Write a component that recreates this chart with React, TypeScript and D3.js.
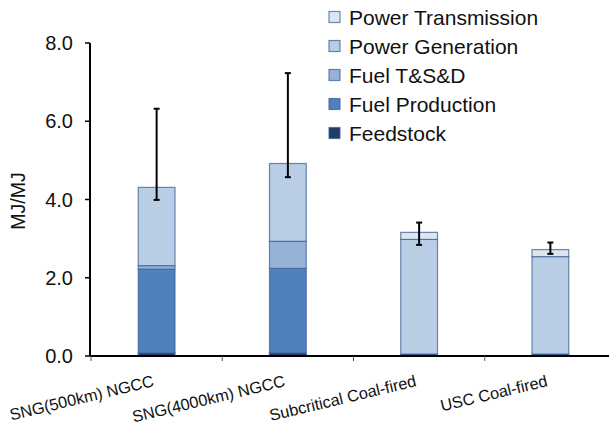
import React from "react";
import * as d3 from "d3";

// Primary energy input per unit of delivered electricity, by pathway
const categories = ["SNG(500km) NGCC", "SNG(4000km) NGCC", "Subcritical Coal-fired", "USC Coal-fired"];
const stages = ["Feedstock", "Fuel Production", "Fuel T&S&D", "Power Generation", "Power Transmission"];
const feedstock = [0.08, 0.08, 0.05, 0.05];
const fuelProduction = [2.14, 2.16, 0, 0];
const fuelTSD = [0.09, 0.69, 0, 0];
const powerGeneration = [2.0, 1.99, 2.93, 2.49];
const powerTransmission = [0, 0, 0.18, 0.18];
const errorLow = [3.99, 4.57, 2.84, 2.61];
const errorHigh = [6.32, 7.23, 3.41, 2.9];
const yTicks = [0, 2, 4, 6, 8];

const stageColors: Record<string, string> = {
  "Feedstock": "#1f3b66",
  "Fuel Production": "#4f81bd",
  "Fuel T&S&D": "#95b3d7",
  "Power Generation": "#b9cde5",
  "Power Transmission": "#dce6f2",
};

const W = 609;
const H = 423;
const FONT = "'Liberation Sans', Arial, sans-serif";

export default function App() {
  const rows = categories.map((c, i) => ({
    cat: c,
    "Feedstock": feedstock[i],
    "Fuel Production": fuelProduction[i],
    "Fuel T&S&D": fuelTSD[i],
    "Power Generation": powerGeneration[i],
    "Power Transmission": powerTransmission[i],
  }));
  const series = d3.stack<any>().keys(stages)(rows);

  const x = d3.scaleBand<string>().domain(categories).range([91, 616]).padding(0);
  const y = d3.scaleLinear().domain([0, 8]).range([356, 43]);
  const bw = x.bandwidth() * 0.28;
  const cx = (c: string) => (x(c) as number) + x.bandwidth() / 2;

  const legendItems = [...stages].reverse();

  return (
    <svg width={W} height={H} style={{ position: "absolute", left: 0, top: 0, background: "#fff" }} fontFamily={FONT}>
      {/* stacked bars */}
      {series.map((s) => (
        <g key={s.key}>
          {s.map((d, i) => {
            const h = y(d[0]) - y(d[1]);
            if (h <= 0) return null;
            return (
              <rect
                key={i}
                x={cx(categories[i]) - bw / 2}
                y={y(d[1])}
                width={bw}
                height={h}
                fill={stageColors[s.key]}
                stroke="#3b6295"
                strokeOpacity={0.75}
                strokeWidth={1.2}
              />
            );
          })}
        </g>
      ))}

      {/* error bars */}
      {categories.map((c, i) => (
        <g key={c} stroke="#000" strokeWidth={2}>
          <line x1={cx(c)} x2={cx(c)} y1={y(errorLow[i])} y2={y(errorHigh[i])} />
          <line x1={cx(c) - 3} x2={cx(c) + 3} y1={y(errorLow[i])} y2={y(errorLow[i])} />
          <line x1={cx(c) - 3} x2={cx(c) + 3} y1={y(errorHigh[i])} y2={y(errorHigh[i])} />
        </g>
      ))}

      {/* y axis */}
      <line x1={90} x2={90} y1={y(8)} y2={y(0)} stroke="#000" strokeWidth={2} />
      {yTicks.map((t) => (
        <g key={t}>
          <line x1={85} x2={90} y1={y(t)} y2={y(t)} stroke="#000" strokeWidth={1.5} />
          <text x={73} y={y(t)} dy="0.35em" textAnchor="end" fontSize={20} fill="#111">
            {d3.format(".1f")(t)}
          </text>
        </g>
      ))}
      <text
        transform={`translate(25,201) rotate(-90)`}
        textAnchor="middle"
        fontSize={19.5}
        fill="#111"
      >
        MJ/MJ
      </text>

      {/* x axis */}
      <line x1={90} x2={W} y1={y(0)} y2={y(0)} stroke="#000" strokeWidth={2} />
      {categories.map((c) => (
        <line key={c} x1={x(c) as number} x2={x(c) as number} y1={y(0)} y2={y(0) + 5} stroke="#555" strokeWidth={1} />
      ))}
      {categories.map((c) => (
        <text
          key={c}
          transform={`translate(${cx(c) - 2},386) rotate(-13.5)`}
          textAnchor="end"
          fontSize={16.3}
          fill="#111"
        >
          {c}
        </text>
      ))}

      {/* legend */}
      {legendItems.map((k, i) => (
        <g key={k} transform={`translate(329,${17 + i * 29})`}>
          <rect x={0} y={-5.5} width={11} height={11} fill={stageColors[k]} stroke="#3b6295" strokeOpacity={0.75} strokeWidth={1.2} />
          <text x={20} y={0} dy="0.36em" fontSize={21} fill="#111">
            {k}
          </text>
        </g>
      ))}
    </svg>
  );
}
